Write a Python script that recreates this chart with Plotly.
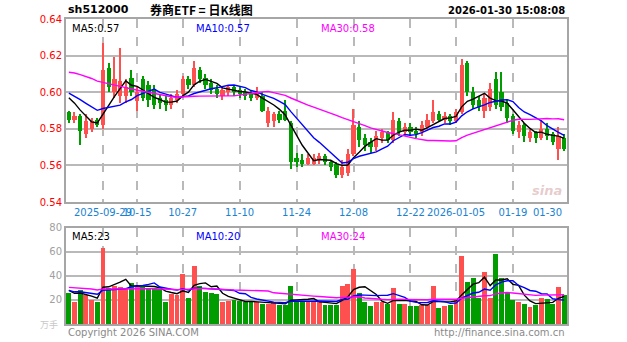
import math
import pandas as pd
import plotly.graph_objects as go

# ---- trading days shown on the chart ----
dates = [
    "2025-09-19", "2025-09-22", "2025-09-23", "2025-09-24", "2025-09-25", "2025-09-26", "2025-09-29", "2025-09-30",
    "2025-10-09", "2025-10-10", "2025-10-13", "2025-10-14", "2025-10-15", "2025-10-16", "2025-10-17",
    "2025-10-20", "2025-10-21", "2025-10-22", "2025-10-23", "2025-10-24",
    "2025-10-27", "2025-10-28", "2025-10-29", "2025-10-30", "2025-10-31",
    "2025-11-03", "2025-11-04", "2025-11-05", "2025-11-06", "2025-11-07",
    "2025-11-10", "2025-11-11", "2025-11-12", "2025-11-13", "2025-11-14",
    "2025-11-17", "2025-11-18", "2025-11-19", "2025-11-20", "2025-11-21",
    "2025-11-24", "2025-11-25", "2025-11-26", "2025-11-27", "2025-11-28",
    "2025-12-01", "2025-12-02", "2025-12-03", "2025-12-04", "2025-12-05",
    "2025-12-08", "2025-12-09", "2025-12-10", "2025-12-11", "2025-12-12",
    "2025-12-15", "2025-12-16", "2025-12-17", "2025-12-18", "2025-12-19",
    "2025-12-22", "2025-12-23", "2025-12-24", "2025-12-25", "2025-12-26",
    "2025-12-29", "2025-12-30", "2025-12-31",
    "2026-01-05", "2026-01-06", "2026-01-07", "2026-01-08", "2026-01-09",
    "2026-01-12", "2026-01-13", "2026-01-14", "2026-01-15", "2026-01-16",
    "2026-01-19", "2026-01-20", "2026-01-21", "2026-01-22", "2026-01-23",
    "2026-01-26", "2026-01-27", "2026-01-28", "2026-01-29", "2026-01-30",
]

open_ = [
    0.589, 0.585, 0.587, 0.577, 0.580, 0.585, 0.582, 0.613, 0.600, 0.598,
    0.598, 0.608, 0.595, 0.607, 0.604, 0.602, 0.597, 0.596, 0.593, 0.596,
    0.599, 0.607, 0.604, 0.612, 0.608, 0.605, 0.602, 0.598, 0.600, 0.603,
    0.601, 0.600, 0.599, 0.597, 0.598, 0.583, 0.584, 0.588, 0.590, 0.583,
    0.564, 0.563, 0.561, 0.561, 0.563, 0.565, 0.562, 0.561, 0.555, 0.556,
    0.566, 0.581, 0.575, 0.573, 0.570, 0.575, 0.578, 0.574, 0.584, 0.578,
    0.581, 0.579, 0.578, 0.581, 0.584, 0.588, 0.585, 0.587, 0.584, 0.589,
    0.616, 0.600, 0.596, 0.590, 0.592, 0.607, 0.600, 0.594, 0.587, 0.578,
    0.582, 0.575, 0.578, 0.575, 0.580, 0.577, 0.569, 0.575,
]
high = [
    0.590, 0.589, 0.588, 0.588, 0.586, 0.586, 0.627, 0.616, 0.619, 0.624,
    0.607, 0.612, 0.603, 0.609, 0.606, 0.604, 0.599, 0.598, 0.599, 0.601,
    0.609, 0.609, 0.617, 0.614, 0.610, 0.607, 0.604, 0.603, 0.604, 0.604,
    0.603, 0.602, 0.601, 0.603, 0.600, 0.592, 0.589, 0.590, 0.596, 0.584,
    0.567, 0.566, 0.566, 0.566, 0.567, 0.566, 0.563, 0.562, 0.563, 0.569,
    0.591, 0.584, 0.577, 0.575, 0.579, 0.580, 0.579, 0.589, 0.586, 0.583,
    0.583, 0.581, 0.584, 0.588, 0.596, 0.590, 0.589, 0.588, 0.591, 0.618,
    0.617, 0.603, 0.598, 0.599, 0.605, 0.611, 0.611, 0.596, 0.588, 0.584,
    0.583, 0.580, 0.579, 0.585, 0.583, 0.578, 0.581, 0.577,
]
low = [
    0.583, 0.583, 0.571, 0.575, 0.578, 0.581, 0.580, 0.600, 0.597, 0.594,
    0.594, 0.598, 0.590, 0.595, 0.592, 0.591, 0.591, 0.590, 0.591, 0.594,
    0.598, 0.602, 0.603, 0.605, 0.602, 0.599, 0.597, 0.596, 0.598, 0.598,
    0.597, 0.596, 0.595, 0.596, 0.589, 0.581, 0.581, 0.583, 0.584, 0.558,
    0.559, 0.559, 0.560, 0.560, 0.561, 0.560, 0.557, 0.553, 0.553, 0.554,
    0.565, 0.570, 0.568, 0.567, 0.568, 0.572, 0.572, 0.572, 0.576, 0.576,
    0.576, 0.575, 0.576, 0.580, 0.583, 0.584, 0.583, 0.582, 0.583, 0.588,
    0.598, 0.591, 0.590, 0.586, 0.590, 0.591, 0.590, 0.583, 0.577, 0.575,
    0.573, 0.573, 0.572, 0.574, 0.574, 0.571, 0.563, 0.568,
]
close = [
    0.585, 0.587, 0.579, 0.584, 0.584, 0.582, 0.612, 0.603, 0.607, 0.606,
    0.603, 0.600, 0.600, 0.597, 0.596, 0.593, 0.594, 0.593, 0.597, 0.599,
    0.607, 0.604, 0.613, 0.607, 0.604, 0.601, 0.599, 0.601, 0.603, 0.600,
    0.599, 0.598, 0.597, 0.600, 0.590, 0.590, 0.588, 0.585, 0.585, 0.562,
    0.562, 0.561, 0.564, 0.564, 0.565, 0.562, 0.559, 0.555, 0.559, 0.566,
    0.582, 0.574, 0.571, 0.570, 0.576, 0.578, 0.574, 0.585, 0.578, 0.581,
    0.578, 0.577, 0.582, 0.585, 0.589, 0.585, 0.587, 0.584, 0.589, 0.615,
    0.600, 0.593, 0.592, 0.597, 0.602, 0.593, 0.592, 0.586, 0.579, 0.582,
    0.576, 0.578, 0.575, 0.580, 0.576, 0.573, 0.576, 0.569,
]
# volume, 万手
volume = [
    26, 18, 28, 24, 20, 18, 63, 30, 32, 31,
    30, 34, 32, 31, 29, 30, 29, 18, 25, 24,
    42, 22, 48, 32, 27, 26, 25, 18, 19, 20,
    19, 18, 18, 18, 17, 17, 18, 16, 16, 32,
    18, 18, 19, 19, 18, 16, 16, 16, 32, 33,
    46, 26, 18, 15, 18, 18, 17, 30, 17, 17,
    15, 15, 16, 16, 32, 13, 15, 16, 20, 57,
    35, 38, 22, 43, 22, 58, 38, 27, 20, 18,
    17, 14, 16, 22, 21, 17, 31, 24,
]

# sessions before the first shown day, used only to seed the moving averages
prior_close = [
    0.600, 0.606, 0.612, 0.618, 0.625, 0.631, 0.628, 0.622, 0.626, 0.630,
    0.624, 0.619, 0.615, 0.611, 0.617, 0.614, 0.609, 0.612, 0.608, 0.605,
    0.603, 0.599, 0.604, 0.601, 0.603, 0.602, 0.598, 0.601, 0.599,
]
prior_volume = [
    28, 35, 30, 38, 42, 36, 31, 29, 33, 30,
    27, 34, 29, 32, 30, 28, 31, 27, 33, 32,
    30, 27, 29, 26, 28, 30, 27, 29, 28,
]

tick_dates = ["2025-09-29", "2025-10-15", "2025-10-27", "2025-11-10", "2025-11-24",
              "2025-12-08", "2025-12-22", "2026-01-05", "2026-01-19"]
tick_labels = ["2025-09-29", "10-15", "10-27", "11-10", "11-24",
               "12-08", "12-22", "2026-01-05", "01-19"]
last_label = "01-30"
price_ticks = [0.54, 0.56, 0.58, 0.60, 0.62, 0.64]
volume_ticks = [20, 40, 60, 80]
ma_periods = [5, 10, 30]
ma_colors = ["#000000", "#0000ff", "#ff00ff"]

UP = "#ff5050"
DOWN = "#009c00"
n = len(dates)
colors = [UP if c >= o else DOWN for o, c in zip(open_, close)]

full_close = pd.Series(prior_close + close)
full_vol = pd.Series(prior_volume + volume, dtype=float)
price_ma = {p: full_close.rolling(p).mean().iloc[-n:].tolist() for p in ma_periods}
vol_ma = {p: full_vol.rolling(p).mean().iloc[-n:].tolist() for p in ma_periods}

body_low = [min(o, c) for o, c in zip(open_, close)]
body_h = [max(abs(c - o), 0.0004) for o, c in zip(open_, close)]
wick_h = [h - l for h, l in zip(high, low)]

fig = go.Figure()

# candle wicks and bodies
fig.add_trace(go.Bar(x=dates, y=wick_h, base=low, width=0.2, marker=dict(color=colors, line_width=0),
                     xaxis="x", yaxis="y", hoverinfo="skip"))
fig.add_trace(go.Bar(x=dates, y=body_h, base=body_low, width=0.74, marker=dict(color=colors, line_width=0),
                     xaxis="x", yaxis="y", hoverinfo="skip"))
for p, col in zip(ma_periods, ma_colors):
    fig.add_trace(go.Scatter(x=dates, y=price_ma[p], mode="lines", line=dict(color=col, width=1.4),
                             xaxis="x", yaxis="y", hoverinfo="skip"))

# volume
fig.add_trace(go.Bar(x=dates, y=volume, width=0.86, marker=dict(color=colors, line_width=0),
                     xaxis="x2", yaxis="y2", hoverinfo="skip"))
for p, col in zip(ma_periods, ma_colors):
    fig.add_trace(go.Scatter(x=dates, y=vol_ma[p], mode="lines", line=dict(color=col, width=1.4),
                             xaxis="x2", yaxis="y2", hoverinfo="skip"))

GRID = "#b9b9b9"
FRAME = "#a6a6a6"
xcommon = dict(type="category", categoryorder="array", categoryarray=dates,
               range=[-0.5, n - 0.5], tickmode="array", tickvals=tick_dates,
               showgrid=True, gridcolor=GRID, gridwidth=1.5, griddash="dash",
               showline=True, linecolor=FRAME, linewidth=2, mirror=True,
               ticks="", tickangle=0, zeroline=False, fixedrange=True)

fig.update_layout(
    width=627, height=342,
    margin=dict(l=66, r=60, t=19, b=18),
    paper_bgcolor="white", plot_bgcolor="white",
    showlegend=False, barmode="overlay", bargap=0,
    font=dict(family="DejaVu Sans", size=10),
    xaxis=dict(xcommon, anchor="y", ticktext=tick_labels,
               tickfont=dict(color="#1a82d2", size=10, family="DejaVu Sans")),
    xaxis2=dict(xcommon, anchor="y2", showticklabels=False),
    yaxis=dict(domain=[0.40, 1.0], range=[0.54, 0.64], tickvals=price_ticks,
               tickformat=".2f", tickfont=dict(color="#ff0000", size=10, family="DejaVu Sans"),
               showgrid=True, gridcolor=GRID, gridwidth=1.5, zeroline=False,
               showline=True, linecolor=FRAME, linewidth=2, mirror=True, ticks="", fixedrange=True),
    yaxis2=dict(domain=[0.0, 0.315], range=[0, 80], tickvals=volume_ticks,
                tickfont=dict(color="#a0a0a0", size=10, family="DejaVu Sans"),
                showgrid=True, gridcolor=GRID, gridwidth=1.5, zeroline=False,
                showline=True, linecolor=FRAME, linewidth=2, mirror=True, ticks="", fixedrange=True),
)


def trunc2(v):
    return math.floor(v * 100 + 1e-9) / 100


ann = []
legend_x = [0.008, 0.255, 0.505]
for k, (p, col) in enumerate(zip(ma_periods, ma_colors)):
    ann.append(dict(xref="paper", yref="paper", x=legend_x[k], y=0.995, xanchor="left", yanchor="top",
                    text="MA%d:%.2f" % (p, trunc2(price_ma[p][-1])), showarrow=False,
                    font=dict(color=col, size=10, family="DejaVu Sans")))
    ann.append(dict(xref="paper", yref="paper", x=legend_x[k], y=0.312, xanchor="left", yanchor="top",
                    text="MA%d:%d" % (p, round(vol_ma[p][-1])), showarrow=False,
                    font=dict(color=col, size=10, family="DejaVu Sans")))

ann += [
    dict(xref="paper", yref="paper", x=0.0, y=1.0, yshift=1, xanchor="left", yanchor="bottom",
         text="<b>sh512000</b>", showarrow=False, font=dict(color="#000", size=11, family="DejaVu Sans")),
    dict(xref="paper", yref="paper", x=0.27, y=1.0, yshift=-1, xanchor="center", yanchor="bottom",
         text="<b>券商ETF = 日K线图</b>", showarrow=False,
         font=dict(color="#000", size=12, family="Noto Sans CJK SC")),
    dict(xref="paper", yref="paper", x=1.0, y=1.0, yshift=1, xanchor="right", yanchor="bottom",
         text="<b>2026-01-30 15:08:08</b>", showarrow=False, font=dict(color="#000", size=10, family="DejaVu Sans")),
    dict(xref="x", yref="paper", x=dates[-1], y=0.40, yshift=-3, xanchor="right", yanchor="top",
         text=last_label, showarrow=False, font=dict(color="#1a82d2", size=10, family="DejaVu Sans")),
    dict(xref="paper", yref="paper", x=0.0, y=0.0, yshift=-1, xanchor="left", yanchor="top",
         text="Copyright 2026 SINA.COM", showarrow=False, font=dict(color="#8a8a8a", size=10, family="DejaVu Sans")),
    dict(xref="paper", yref="paper", x=1.0, y=0.0, yshift=-1, xanchor="right", yanchor="top",
         text="http://finance.sina.com.cn", showarrow=False, font=dict(color="#8a8a8a", size=10, family="DejaVu Sans")),
    dict(xref="paper", yref="paper", x=-0.012, y=0.0, xanchor="right", yanchor="middle",
         text="万手", showarrow=False, font=dict(color="#c8c8c8", size=9, family="Noto Sans CJK SC")),
    dict(xref="paper", yref="paper", x=0.995, y=0.405, xanchor="right", yanchor="bottom",
         text="<i><b>sina</b></i>", showarrow=False, font=dict(color="rgba(200,140,140,0.45)", size=13,
                                                              family="DejaVu Sans")),
]
fig.update_layout(annotations=ann)

fig.write_html("out.html")
